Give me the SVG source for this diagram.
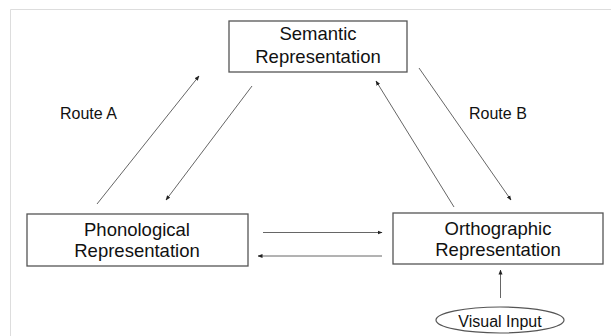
<svg xmlns="http://www.w3.org/2000/svg" width="612" height="336" viewBox="0 0 612 336">
<style>
.box{fill:#fff;stroke:#555;stroke-width:1.3}
.t{font-family:"Liberation Sans",Arial,sans-serif;font-size:18.5px;fill:#111;text-anchor:middle}
.s{font-family:"Liberation Sans",Arial,sans-serif;font-size:16px;fill:#111}
.c{stroke:#666;stroke-width:1;fill:none;marker-end:url(#ah)}
</style>
<defs>
<marker id="ah" viewBox="0 0 10 10" refX="9" refY="5" markerWidth="5" markerHeight="5" orient="auto" markerUnits="userSpaceOnUse">
<path d="M0,1 L10,5 L0,9 Z" fill="#222"/>
</marker>
</defs>
<rect width="612" height="336" fill="#fff"/>
<path d="M10.5,336 V9.5 H611" fill="none" stroke="#ddd" stroke-width="1"/>
<g id="semantic">
<rect class="box" x="229" y="21" width="178" height="51"/>
<text class="t" x="318" y="40">Semantic</text>
<text class="t" x="318" y="63">Representation</text>
</g>
<g id="phonological">
<rect class="box" x="27" y="214" width="221" height="52"/>
<text class="t" x="137" y="236">Phonological</text>
<text class="t" x="137" y="257">Representation</text>
</g>
<g id="orthographic">
<rect class="box" x="393" y="213" width="210" height="51"/>
<text class="t" x="498" y="234.5">Orthographic</text>
<text class="t" x="498" y="256">Representation</text>
</g>
<g id="visual-input">
<ellipse cx="500" cy="320" rx="64" ry="13" fill="#fff" stroke="#555" stroke-width="1.2"/>
<text class="s" x="500" y="327" text-anchor="middle">Visual Input</text>
</g>
<g id="labels">
<text class="s" x="60" y="119">Route A</text>
<text class="s" x="469" y="119">Route B</text>
</g>
<g id="connectors">
<line class="c" x1="97" y1="204" x2="199" y2="76"/>
<line class="c" x1="252" y1="86" x2="166" y2="200"/>
<line class="c" x1="454" y1="207" x2="376" y2="81"/>
<line class="c" x1="419" y1="68" x2="511" y2="200"/>
<line class="c" x1="263" y1="232.5" x2="382" y2="232.5"/>
<line class="c" x1="382" y1="256" x2="258" y2="256"/>
<line class="c" x1="500.5" y1="298" x2="500.5" y2="270"/>
</g>
</svg>
